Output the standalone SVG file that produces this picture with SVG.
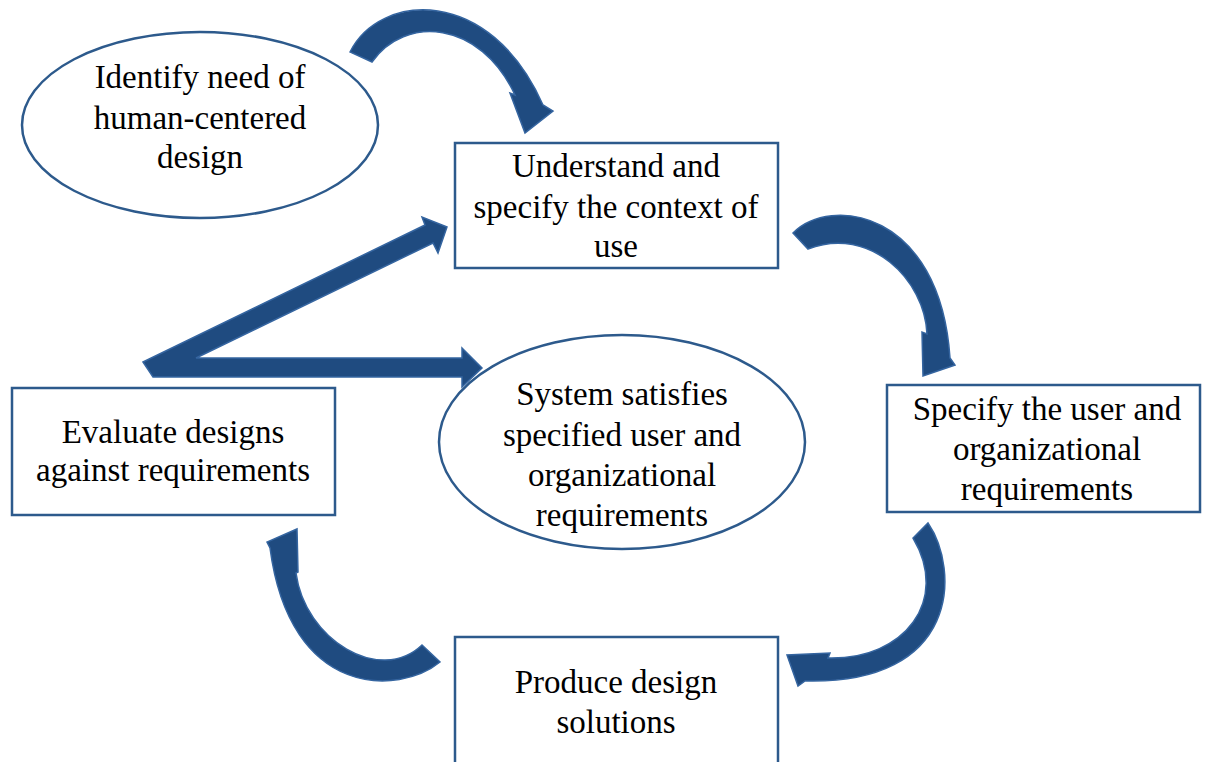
<svg xmlns="http://www.w3.org/2000/svg" width="1214" height="762" viewBox="0 0 1214 762">
<style>
.node{fill:#fff;stroke:#2d5a8c;stroke-width:2.5}
.t{font-family:"Liberation Serif","Times New Roman",serif;font-size:33px;fill:#000;text-anchor:middle}
.arr{fill:#1f4b80;stroke:#3565a0;stroke-width:1.5;stroke-linejoin:miter}
</style>
<rect width="1214" height="762" fill="#fff"/>
<g id="connectors">
<path class="arr" d="M350,52 C380,-8 490,-15 543,105 L553,111 L525,133 L510,93 L515,95 C480,20 405,15 372,62 Z"/>
<path class="arr" d="M793,233 C830,195 940,210 950,358 L955,365 L923,376 L922,332 L927,334 C925,280 870,225 808,249 Z"/>
<path class="arr" d="M928,523 C960,570 960,685 805,681 L798,686 L787,655 L830,653 L828,658 C905,660 950,600 913,538 Z"/>
<path class="arr" d="M440,662 C400,695 290,700 270,548 L267,542 L297,529 L298,572 L296,573 C305,640 380,685 422,645 Z"/>
<path class="arr" d="M143,362 L425,225 L422,217 L447,227 L438,253 L433,243 L196,358 L462,358 L462,348 L482,368 L462,387 L462,377 L153,377 Z"/>
</g>
<g id="n1">
<ellipse class="node" cx="200" cy="125" rx="178" ry="93"/>
<text class="t" x="200" y="88">Identify need of</text>
<text class="t" x="200" y="129">human-centered</text>
<text class="t" x="200" y="168">design</text>
</g>
<g id="n2">
<rect class="node" x="455" y="143" width="323" height="125"/>
<text class="t" x="616" y="177">Understand and</text>
<text class="t" x="616" y="218">specify the context of</text>
<text class="t" x="616" y="257">use</text>
</g>
<g id="n3">
<rect class="node" x="887" y="385" width="313" height="127"/>
<text class="t" x="1047" y="420">Specify the user and</text>
<text class="t" x="1047" y="460">organizational</text>
<text class="t" x="1047" y="500">requirements</text>
</g>
<g id="n4">
<rect class="node" x="455" y="637" width="323" height="135"/>
<text class="t" x="616" y="693">Produce design</text>
<text class="t" x="616" y="733">solutions</text>
</g>
<g id="n5">
<rect class="node" x="12" y="388" width="323" height="127"/>
<text class="t" x="173" y="443">Evaluate designs</text>
<text class="t" x="173" y="481">against requirements</text>
</g>
<g id="n6">
<ellipse class="node" cx="622" cy="442" rx="183" ry="107"/>
<text class="t" x="622" y="405">System satisfies</text>
<text class="t" x="622" y="446">specified user and</text>
<text class="t" x="622" y="486">organizational</text>
<text class="t" x="622" y="526">requirements</text>
</g>
</svg>
